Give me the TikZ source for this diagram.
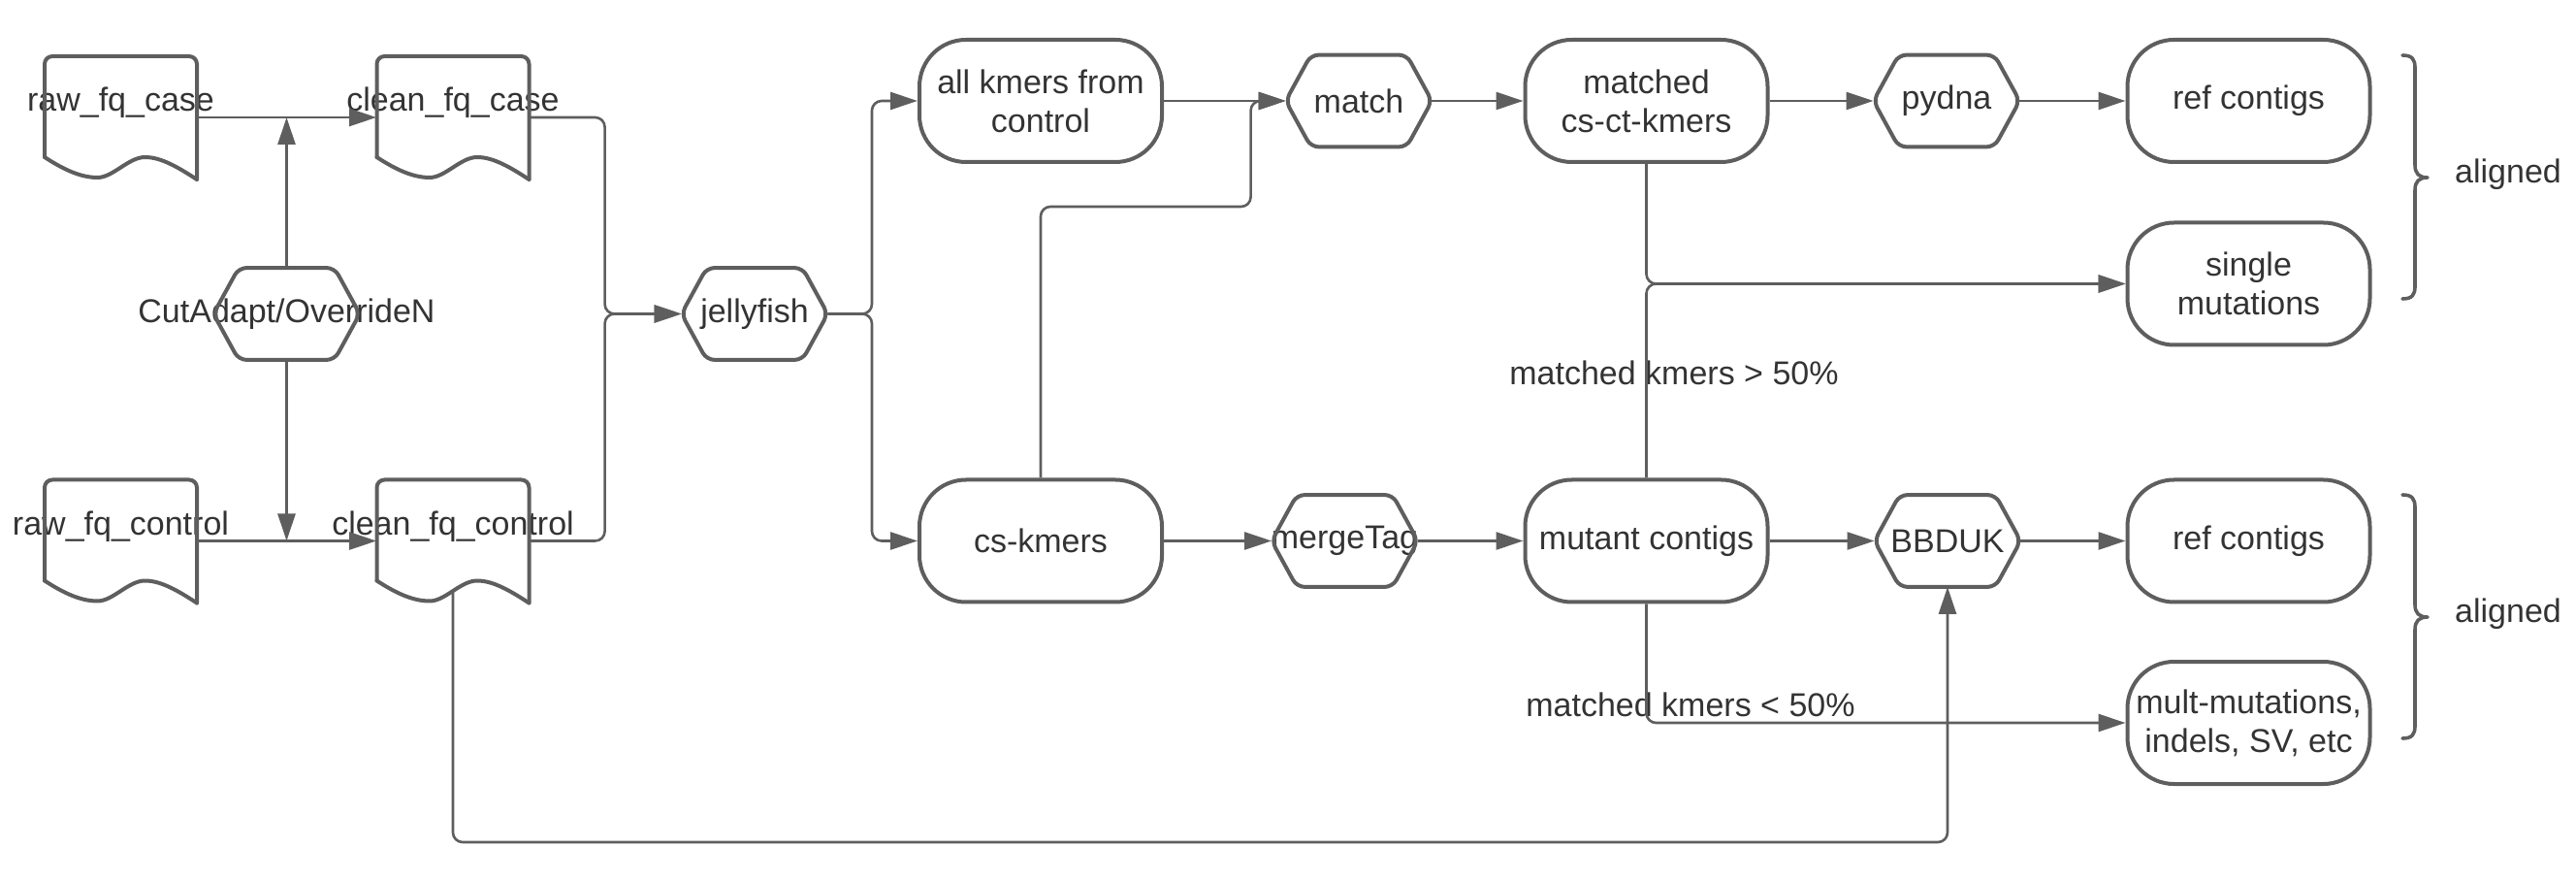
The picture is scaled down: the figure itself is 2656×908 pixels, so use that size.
\documentclass[tikz,border=0pt]{standalone}
\usepackage{fontspec}
\setmainfont{Liberation Sans}
\usetikzlibrary{arrows.meta,calc}
\definecolor{ln}{HTML}{5E5E5E}
\definecolor{tx}{HTML}{333333}
\newcommand{\hexnode}[4]{%
  \node[hexbox] (#1) at (#2,#3) {\makebox[0pt]{#4}};
  \draw[outl, rounded corners=4pt] (#1.west) -- ([xshift=13pt]#1.north west) -- ([xshift=-13pt]#1.north east) -- (#1.east) -- ([xshift=-13pt]#1.south east) -- ([xshift=13pt]#1.south west) -- cycle;}
\newcommand{\docnode}[4]{%
  \node[docbox] (#1) at (#2,#3) {};
  \node (#1-t) at ([yshift=7.5pt]#1.center) {#4};
  \draw[outl, rounded corners=4pt] ([shift={(-78.5,41)}]#1.center) -- ([shift={(-78.5,-63)}]#1.center) -- ([shift={(78.5,-63)}]#1.center) -- ([shift={(78.5,64)}]#1.center);
  \draw[outl] ([shift={(78.5,64)}]#1.center) .. controls ([shift={(60,52)}]#1.center) and ([shift={(42,41)}]#1.center) .. ([shift={(25,41)}]#1.center)
     .. controls ([shift={(8,41)}]#1.center) and ([shift={(-8,62)}]#1.center) .. ([shift={(-24,62)}]#1.center)
     .. controls ([shift={(-42,62)}]#1.center) and ([shift={(-60,53)}]#1.center) .. ([shift={(-78.5,41)}]#1.center);}
\newcommand{\bracedraw}{%
  \draw[outl, line width=1.8pt] (2477,57) .. controls (2487,57) and (2490,61) .. (2490,70) -- (2490,170) .. controls (2490,179) and (2494,183) .. (2503,183) .. controls (2494,183) and (2490,187) .. (2490,196) -- (2490,295) .. controls (2490,304) and (2487,308) .. (2477,308);}
\begin{document}
\begin{tikzpicture}[x=0.5pt,y=-0.5pt,
  every node/.style={font=\fontsize{17}{20}\selectfont, text=tx, align=center},
  stad/.style={draw=ln, line width=2pt, rounded corners=24pt, minimum width=125pt, minimum height=63pt, inner sep=0pt},
  hexbox/.style={minimum width=75pt, minimum height=47pt, inner sep=0pt},
  docbox/.style={minimum width=78.5pt, minimum height=63.5pt, inner sep=0pt},
  outl/.style={draw=ln, line width=2pt, line join=round, line cap=round},
  conn/.style={draw=ln, line width=1.3pt, rounded corners=5pt},
  arr/.style={conn, -{Triangle[length=14pt,width=9pt]}}
]
\useasboundingbox (0,0) rectangle (2656,908);
% documents
\docnode{rawcase}{124.5}{121}{raw\_fq\_case}
\docnode{cleancase}{467}{121}{clean\_fq\_case}
\docnode{rawctrl}{124.5}{557.5}{raw\_fq\_control}
\docnode{cleanctrl}{467}{557.5}{clean\_fq\_control}
% hexagons
\hexnode{cut}{295.5}{323.5}{CutAdapt/OverrideN}
\hexnode{jelly}{778}{323.5}{jellyfish}
\hexnode{match}{1401}{104}{match}
\hexnode{merge}{1386.5}{557.5}{mergeTag}
\hexnode{pydna}{2007}{104}{pydna}
\hexnode{bbduk}{2008}{557.5}{BBDUK}
% stadium boxes
\node[stad] (allk) at (1073,104) {all kmers from\\control};
\node[stad] (csk) at (1073,557.5) {cs-kmers};
\node[stad] (matched) at (1697.5,104) {matched\\cs-ct-kmers};
\node[stad] (mutant) at (1697.5,557.5) {mutant contigs};
\node[stad] (ref1) at (2318.5,104) {ref contigs};
\node[stad] (single) at (2318.5,292.5) {single\\mutations};
\node[stad] (ref2) at (2318.5,557.5) {ref contigs};
\node[stad] (mult) at (2318.5,745) {mult-mutations,\\indels, SV, etc};
% labels
\node (gt50) at (1726,384) {matched kmers > 50\%};
\node (lt50) at (1743,726) {matched kmers < 50\%};
\node (al1) at (2586,180) {aligned};
\node (al2) at (2586,633) {aligned};
% braces
\bracedraw
\begin{scope}[yshift=-226.5pt]\bracedraw\end{scope}
% connectors
\draw[arr] (rawcase.east) -- (cleancase.west);
\draw[arr] (cut.north) -- (cut.north |- rawcase.east);
\draw[arr] (cut.south) -- (cut.south |- rawctrl.east);
\draw[arr] (rawctrl.east) -- (cleanctrl.west);
\coordinate (jin) at ([xshift=-39.5pt]jelly.west);
\draw[arr] (cleancase.east) -| (jin) -- (jelly.west);
\draw[arr] (cleanctrl.east) -| (jin) -- (jelly.west);
\coordinate (jout) at ([xshift=-23.5pt]allk.west);
\coordinate (jout2) at ([xshift=-23.5pt]csk.west);
\draw[arr] (jelly.east) -| (jout) -- (allk.west);
\draw[arr] (jelly.east) -| (jout2) -- (csk.west);
\draw[arr] (allk.east) -- (match.west);
\coordinate (min) at ([xshift=-18pt]match.west);
\draw[arr] (csk.north) -- ++(0,-279.5) -| (min) -- (match.west);
\draw[arr] (match.east) -- (matched.west);
\draw[arr] (matched.east) -- (pydna.west);
\draw[arr] (pydna.east) -- (ref1.west);
\draw[arr] (matched.south) |- (single.west);
\draw[arr] (mutant.north) |- (single.west);
\draw[arr] (csk.east) -- (merge.west);
\draw[arr] (merge.east) -- (mutant.west);
\draw[arr] (mutant.east) -- (bbduk.west);
\draw[arr] (bbduk.east) -- (ref2.west);
\draw[arr] (mutant.south) |- (mult.west);
\coordinate (ccb) at ([yshift=-25.5pt]cleanctrl.center);
\draw[arr] (ccb) -- ++(0,259.5) -| (bbduk.south);
\end{tikzpicture}
\end{document}
